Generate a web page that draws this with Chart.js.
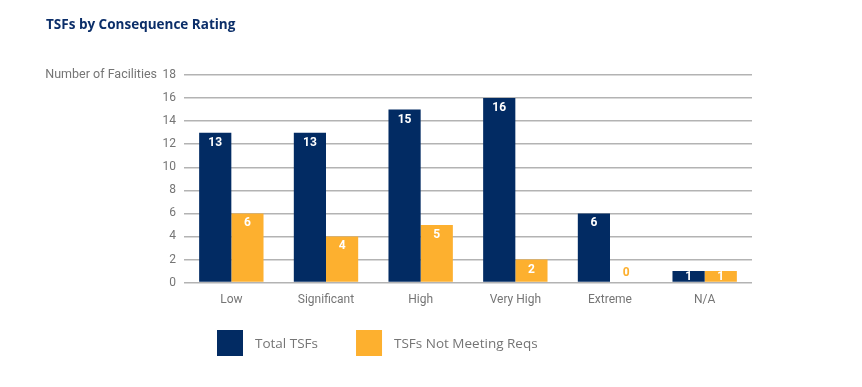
<!DOCTYPE html>
<html>
<head>
<meta charset="utf-8">
<script src="https://cdn.jsdelivr.net/npm/chart.js@4.4.1/dist/chart.umd.min.js"></script>
<style>
    html, body { margin: 0; padding: 0; background: #fff; }
    #wrap { width: 862px; height: 387px; position: relative; }
</style>
</head>
<body>
<div id="wrap"><canvas id="tsfChart"></canvas></div>
<script>
// chart data
const categories = ["Low", "Significant", "High", "Very High", "Extreme", "N/A"];
const totalTsfs = [13, 13, 15, 16, 6, 1];
const notMeetingReqs = [6, 4, 5, 2, 0, 1];
const yTicks = [0, 2, 4, 6, 8, 10, 12, 14, 16, 18];

const NAVY = "#022b63";
const ORANGE = "#fdb02f";
const GREY_TEXT = "#757575";

// draws values on top of each bar
const barLabels = {
    id: "barLabels",
    afterDatasetsDraw(chart) {
        const ctx = chart.ctx;
        ctx.save();
        ctx.font = "bold 12px Roboto, sans-serif";
        ctx.textAlign = "center";
        ctx.textBaseline = "middle";
        chart.data.datasets.forEach((ds, i) => {
            chart.getDatasetMeta(i).data.forEach((bar, j) => {
                const v = ds.data[j];
                let y;
                if (v === 0) {
                    ctx.fillStyle = ds.backgroundColor;
                    y = bar.base - 10;
                } else {
                    ctx.fillStyle = "#ffffff";
                    y = Math.min(bar.y + 10, (bar.y + bar.base) / 2 + 1);
                }
                ctx.fillText(String(v), bar.x, y);
            });
        });
        ctx.restore();
    }
};

// title, y axis caption and legend
const decorations = {
    id: "decorations",
    afterDraw(chart) {
        const ctx = chart.ctx;
        const yScale = chart.scales.y;
        ctx.save();
        ctx.textBaseline = "middle";

        ctx.fillStyle = "#0b2e69";
        ctx.font = "bold 13.5px 'Open Sans', sans-serif";
        ctx.textAlign = "left";
        ctx.fillText("TSFs by Consequence Rating", 46, 25);

        ctx.fillStyle = GREY_TEXT;
        ctx.font = "12.5px Roboto, sans-serif";
        ctx.textAlign = "right";
        ctx.fillText("Number of Facilities", 157, yScale.getPixelForValue(18));

        ctx.textAlign = "left";
        ctx.font = "13.5px 'Open Sans', sans-serif";
        let x = 217;
        chart.data.datasets.forEach(ds => {
            ctx.fillStyle = ds.backgroundColor;
            ctx.fillRect(x, 330, 26, 26);
            ctx.fillStyle = GREY_TEXT;
            ctx.fillText(ds.label, x + 38, 344);
            x += 38 + ctx.measureText(ds.label).width + 38;
        });
        ctx.restore();
    }
};

document.addEventListener("DOMContentLoaded", function () {
    const ctx = document.getElementById("tsfChart");
    new Chart(ctx, {
        type: "bar",
        data: {
            labels: categories,
            datasets: [
                { label: "Total TSFs", data: totalTsfs, backgroundColor: NAVY },
                { label: "TSFs Not Meeting Reqs", data: notMeetingReqs, backgroundColor: ORANGE }
            ]
        },
        options: {
            responsive: true,
            maintainAspectRatio: false,
            animation: false,
            layout: { padding: { left: 140, right: 110, top: 75, bottom: 70 } },
            datasets: { bar: { categoryPercentage: 0.68, barPercentage: 1 } },
            plugins: {
                legend: { display: false },
                title: { display: false },
                tooltip: { enabled: false }
            },
            scales: {
                x: {
                    grid: { display: false, drawTicks: false },
                    border: { display: false },
                    ticks: { color: GREY_TEXT, font: { family: "Roboto", size: 12 }, padding: 10 }
                },
                y: {
                    min: 0,
                    max: 18,
                    afterBuildTicks(scale) { scale.ticks = yTicks.map(v => ({ value: v })); },
                    afterFit(scale) { scale.width = 44; },
                    grid: { color: "#b3b3b3", lineWidth: 1.5, drawTicks: false },
                    border: { display: false },
                    ticks: { color: GREY_TEXT, font: { family: "Roboto", size: 12 }, padding: 8 }
                }
            }
        },
        plugins: [barLabels, decorations]
    });
});
</script>
</body>
</html>
